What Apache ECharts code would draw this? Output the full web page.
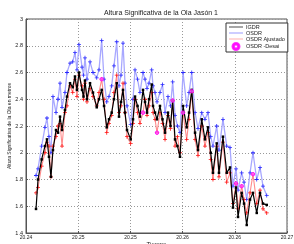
<!DOCTYPE html>
<html>
<head>
<meta charset="utf-8">
<script src="https://cdn.jsdelivr.net/npm/echarts@6/dist/echarts.min.js"></script>
<style>
  html, body { margin: 0; padding: 0; background: #fff; }
  #chart { width: 294px; height: 244px; }
</style>
</head>
<body>
<div id="chart"></div>
<script>
// tiempo de cada pasada (mismo muestreo para IGDR, OSDR y OSDR ajustado)
const tiempo = [
  20.24115, 20.24138, 20.24180, 20.24218, 20.24241, 20.24264, 20.24287, 20.24310, 20.24345, 20.24368,
  20.24391, 20.24414, 20.24448, 20.24471, 20.24506, 20.24537, 20.24563, 20.24586, 20.24609, 20.24644,
  20.24661, 20.24678, 20.24701, 20.24736, 20.24770, 20.24813, 20.24839, 20.24870, 20.24897, 20.24928,
  20.24954, 20.24985, 20.25011, 20.25043, 20.25069, 20.25092, 20.25115, 20.25138, 20.25161, 20.25203,
  20.25230, 20.25253, 20.25282, 20.25310, 20.25345, 20.25368, 20.25391, 20.25414, 20.25445, 20.25460,
  20.25483, 20.25506, 20.25540, 20.25569, 20.25598, 20.25632, 20.25661, 20.25686, 20.25713, 20.25741,
  20.25770, 20.25805, 20.25847, 20.25874, 20.25905, 20.25943, 20.25977, 20.26020, 20.26057, 20.26092,
  20.26123, 20.26149, 20.26192, 20.26218, 20.26264, 20.26307, 20.26345, 20.26379, 20.26414, 20.26437,
  20.26479, 20.26506, 20.26537, 20.26575, 20.26609, 20.26652, 20.26690, 20.26724, 20.26767
];

const igdr = [
  1.58, 1.80, 1.95, 2.05, 2.10, 1.97, 1.82, 2.02, 2.17, 2.15,
  2.27, 2.17, 2.32, 2.42, 2.52, 2.49, 2.57, 2.47, 2.60, 2.47,
  2.42, 2.54, 2.40, 2.52, 2.45, 2.34, 2.40, 2.47, 2.35, 2.19,
  2.25, 2.30, 2.40, 2.52, 2.27, 2.38, 2.47, 2.30, 2.17, 2.10,
  2.25, 2.42, 2.35, 2.27, 2.47, 2.38, 2.30, 2.40, 2.51, 2.35,
  2.30, 2.25, 2.35, 2.25, 2.15, 2.30, 2.20, 2.39, 2.10, 2.05,
  1.97, 2.35, 2.19, 2.30, 2.47, 2.15, 2.02, 2.25, 2.10, 2.19,
  2.00, 1.85, 2.07, 1.85, 2.12, 1.85, 1.89, 1.59, 1.74, 1.52,
  1.70, 1.62, 1.46, 1.65, 1.70, 1.55, 1.70, 1.62, 1.61
];

const osdr = [
  1.83, 1.88, 2.05, 2.19, 2.26, 2.12, 2.00, 2.42, 2.30, 2.40,
  2.52, 2.34, 2.45, 2.60, 2.67, 2.68, 2.75, 2.62, 2.81, 2.64,
  2.58, 2.71, 2.55, 2.68, 2.60, 2.56, 2.62, 2.84, 2.55, 2.38,
  2.42, 2.50, 2.65, 2.83, 2.50, 2.58, 2.82, 2.52, 2.35, 2.21,
  2.40, 2.62, 2.55, 2.45, 2.60, 2.55, 2.48, 2.52, 2.62, 2.50,
  2.45, 2.38, 2.45, 2.51, 2.30, 2.42, 2.35, 2.53, 2.28, 2.20,
  2.15, 2.60, 2.35, 2.45, 2.60, 2.30, 2.18, 2.30, 2.25, 2.30,
  2.12, 2.05, 2.20, 2.02, 2.25, 2.05, 2.04, 1.75, 1.88, 1.72,
  1.85, 1.78, 1.65, 1.85, 2.00, 1.80, 1.89, 1.75, 1.68
];

const osdrAjustado = [
  1.70, 1.74, 1.90, 2.00, 2.08, 2.05, 1.82, 2.05, 2.12, 2.20,
  2.22, 2.05, 2.30, 2.35, 2.50, 2.45, 2.55, 2.42, 2.58, 2.50,
  2.40, 2.52, 2.38, 2.48, 2.42, 2.35, 2.45, 2.55, 2.40, 2.15,
  2.22, 2.28, 2.45, 2.58, 2.30, 2.35, 2.52, 2.30, 2.12, 2.07,
  2.22, 2.40, 2.30, 2.22, 2.30, 2.40, 2.28, 2.35, 2.45, 2.30,
  2.25, 2.15, 2.30, 2.22, 2.10, 2.28, 2.18, 2.39, 2.05, 2.12,
  2.00, 2.30, 2.10, 2.25, 2.45, 2.10, 1.98, 2.20, 2.05, 2.15,
  1.95, 1.80, 2.05, 1.82, 2.08, 1.78, 1.85, 1.62, 1.77, 1.58,
  1.75, 1.65, 1.55, 1.70, 1.84, 1.62, 1.72, 1.58, 1.55
];

// OSDR con correccion Desai, solo en algunas pasadas
const tiempoDesai = [20.24870, 20.25345, 20.25506, 20.25686, 20.25805, 20.25905, 20.26414, 20.26479, 20.26609];
const osdrDesai = [2.55, 2.30, 2.15, 2.39, 2.30, 2.46, 1.77, 1.75, 1.84];

const xTickLabels = ['20.24', '20.25', '20.25', '20.26', '20.26', '20.27'];
const xStart = 20.24;
const xStep = 0.006;

const toAxis = t => (t - xStart) / xStep;
const pairs = (xs, ys) => xs.map((t, i) => [toAxis(t), ys[i]]);

const plus = 'path://M4,0H6V10H4ZM0,4H10V6H0Z';
const font = 'Liberation Sans, Arial, sans-serif';

const chart = echarts.init(document.getElementById('chart'));

const option = {
  animation: false,
  backgroundColor: '#fff',
  title: {
    text: 'Altura Significativa de la Ola Jasón 1',
    left: 156,
    textAlign: 'center',
    top: 5,
    textStyle: { fontSize: 7, fontWeight: 'normal', color: '#222', fontFamily: font }
  },
  grid: {
    left: 26, right: 7, top: 19, bottom: 11,
    containLabel: false,
    outerBoundsMode: 'none',
    show: true, borderColor: '#555', borderWidth: 1
  },
  legend: {
    orient: 'vertical',
    left: 226, top: 23,
    padding: [1, 3, 1, 3],
    itemGap: 0,
    itemWidth: 14, itemHeight: 7,
    backgroundColor: '#fff',
    borderColor: '#333', borderWidth: 1,
    textStyle: { fontSize: 5.5, color: '#222', fontFamily: font, padding: [0, 0, 0, -2] },
    data: [
      { name: 'IGDR', icon: 'path://M0,4.5H20V5.5H0Z', itemStyle: { color: '#000' } },
      { name: 'OSDR', icon: 'path://M0,4H20V6H0Z', itemStyle: { color: '#b8b8ff' } },
      { name: 'OSDR Ajustado', icon: 'path://M0,4.5H20V5.5H0Z', itemStyle: { color: '#ff8c8c' } },
      { name: 'OSDR -Desai', icon: 'path://M7,5A3,3,0,1,1,13,5A3,3,0,1,1,7,5ZM8.3,5A1.7,1.7,0,1,0,11.7,5A1.7,1.7,0,1,0,8.3,5Z', itemStyle: { color: '#ff00ff' } }
    ]
  },
  xAxis: {
    type: 'value',
    min: 0, max: 5, interval: 1,
    name: 'Tiempo',
    nameLocation: 'middle',
    nameGap: 8,
    nameMoveOverlap: false,
    nameTextStyle: { fontSize: 6, color: '#222', fontFamily: font, verticalAlign: 'top' },
    axisLine: { lineStyle: { color: '#555' } },
    axisTick: { inside: true, length: 2, lineStyle: { color: '#555' } },
    axisLabel: {
      fontSize: 5, color: '#222', fontFamily: font, margin: 2,
      formatter: v => xTickLabels[Math.round(v)]
    },
    splitLine: { lineStyle: { color: '#999', type: [1, 2] } }
  },
  yAxis: {
    type: 'value',
    min: 1.4, max: 3, interval: 0.2,
    name: 'Altura Significativa de la Ola en metros',
    nameLocation: 'middle',
    nameGap: 14,
    nameMoveOverlap: false,
    nameTextStyle: { fontSize: 5, color: '#222', fontFamily: font },
    axisLine: { show: true, lineStyle: { color: '#555' } },
    axisTick: { show: true, inside: true, length: 2, lineStyle: { color: '#555' } },
    axisLabel: {
      fontSize: 5.5, color: '#222', fontFamily: font, margin: 3,
      formatter: v => String(Math.round(v * 10) / 10)
    },
    splitLine: { lineStyle: { color: '#999', type: [1, 2] } }
  },
  series: [
    {
      name: 'OSDR',
      type: 'line',
      z: 2,
      data: pairs(tiempo, osdr),
      lineStyle: { color: '#a8a8ff', width: 1.3 },
      symbol: plus, symbolSize: 4,
      itemStyle: { color: '#2828ff' }
    },
    {
      name: 'OSDR Ajustado',
      type: 'line',
      z: 3,
      data: pairs(tiempo, osdrAjustado),
      lineStyle: { color: '#ff8c8c', width: 1.1 },
      symbol: plus, symbolSize: 4,
      itemStyle: { color: '#ff1010' }
    },
    {
      name: 'IGDR',
      type: 'line',
      z: 4,
      data: pairs(tiempo, igdr),
      lineStyle: { color: '#000', width: 1.2 },
      symbol: 'rect', symbolSize: 2.5,
      itemStyle: { color: '#000' }
    },
    {
      name: 'OSDR -Desai',
      type: 'scatter',
      z: 5,
      data: pairs(tiempoDesai, osdrDesai),
      symbol: 'circle', symbolSize: 3.5,
      itemStyle: { color: '#ff60ff', borderColor: '#ff00ff', borderWidth: 1 }
    }
  ]
};

chart.setOption(option);
</script>
</body>
</html>
